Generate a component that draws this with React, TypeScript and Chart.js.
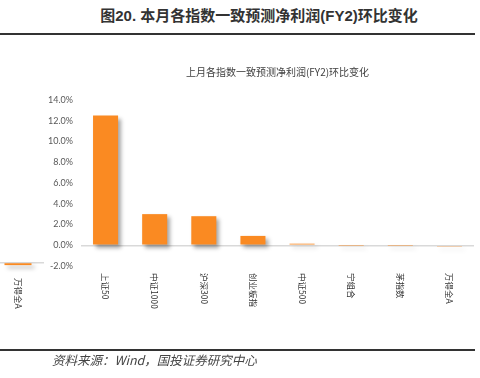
import React, { useEffect, useRef } from "react";
import { Chart, registerables } from "chart.js";

Chart.register(...registerables);

const categories = ["上证50", "中证1000", "沪深300", "创业板指", "中证500", "宁组合", "茅指数", "万得全A"];
const changes = [12.5, 3.0, 2.8, 0.9, 0.15, -0.03, -0.03, -0.1];
const fragmentCategories = ["万得全A"];
const fragmentValues = [-0.25];
const yTicks = [-2, 0, 2, 4, 6, 8, 10, 12, 14];

const headerTitle = "图20. 本月各指数一致预测净利润(FY2)环比变化";
const chartTitle = "上月各指数一致预测净利润(FY2)环比变化";
const sourceNote = "资料来源：Wind，国投证券研究中心";

const ORANGE = "#FA8A22";

const shadowPlugin = {
  id: "barShadow",
  beforeDatasetsDraw(chart: any) {
    const ctx = chart.ctx;
    ctx.save();
    ctx.shadowColor = "rgba(0,0,0,0.35)";
    ctx.shadowBlur = 4;
    ctx.shadowOffsetX = 3;
    ctx.shadowOffsetY = 3;
  },
  afterDatasetsDraw(chart: any) {
    chart.ctx.restore();
  },
};

const vLabelPlugin = {
  id: "vLabels",
  afterDraw(chart: any, _args: any, opts: any) {
    if (!opts || !opts.labelY) return;
    const ctx = chart.ctx;
    const xScale = chart.scales.x;
    const labels = chart.data.labels as string[];
    ctx.save();
    ctx.fillStyle = opts.color || "#404040";
    ctx.font = opts.font || "8.5px 'Noto Sans CJK SC'";
    ctx.textAlign = "left";
    ctx.textBaseline = "middle";
    labels.forEach((lab, i) => {
      const x = xScale.getPixelForValue(i);
      ctx.save();
      ctx.translate(x, opts.labelY);
      ctx.rotate(Math.PI / 2);
      ctx.fillText(lab, 0, 0);
      ctx.restore();
    });
    ctx.restore();
  },
};

function MainChart() {
  const ref = useRef<HTMLCanvasElement>(null);
  useEffect(() => {
    const chart = new Chart(ref.current!, {
      type: "bar",
      data: {
        labels: categories,
        datasets: [
          {
            data: changes,
            backgroundColor: ORANGE,
            borderWidth: 0,
            categoryPercentage: 1,
            barPercentage: 0.51,
          },
        ],
      },
      plugins: [shadowPlugin, vLabelPlugin],
      options: {
        animation: false,
        responsive: false,
        devicePixelRatio: 1,
        layout: { padding: { left: 0, right: 6, top: 0, bottom: 64 } },
        plugins: {
          legend: { display: false },
          tooltip: { enabled: false },
          title: {
            display: true,
            text: chartTitle,
            fullSize: false,
            color: "#404040",
            font: { size: 10, family: "'Noto Sans CJK SC'", weight: "normal" },
            padding: { top: 16, bottom: 22 },
          },
          vLabels: { labelY: 223, font: "8.5px 'Noto Sans CJK SC'", color: "#333" },
        } as any,
        scales: {
          x: { display: false },
          y: {
            min: -2,
            max: 14,
            afterBuildTicks(scale: any) {
              scale.ticks = yTicks.map((v) => ({ value: v }));
            },
            afterFit(scale: any) {
              scale.width = 81;
            },
            border: { display: false },
            grid: {
              drawTicks: false,
              color: (c: any) => (c.tick && c.tick.value === 0 ? "#d9d9d9" : "rgba(0,0,0,0)"),
              lineWidth: 1.5,
            },
            ticks: {
              padding: 8,
              color: "#595959",
              font: { size: 9, family: "Lato, 'Noto Sans'" },
              callback: (v: any) => Number(v).toFixed(1) + "%",
            },
          },
        },
      },
    });
    return () => chart.destroy();
  }, []);
  return (
    <canvas
      ref={ref}
      width={480}
      height={280}
      style={{ position: "absolute", left: 0, top: 50, width: 480, height: 280 }}
    />
  );
}

function FragmentChart() {
  const ref = useRef<HTMLCanvasElement>(null);
  useEffect(() => {
    const chart = new Chart(ref.current!, {
      type: "bar",
      data: {
        labels: fragmentCategories,
        datasets: [
          {
            data: fragmentValues,
            backgroundColor: ORANGE,
            borderWidth: 0,
            categoryPercentage: 1,
            barPercentage: 0.52,
          },
        ],
      },
      plugins: [shadowPlugin, vLabelPlugin],
      options: {
        animation: false,
        responsive: false,
        devicePixelRatio: 1,
        layout: { padding: { left: 0, right: 0, top: 10, bottom: 49 } },
        plugins: {
          legend: { display: false },
          tooltip: { enabled: false },
          vLabels: { labelY: 36, font: "8.5px 'Noto Sans CJK SC'", color: "#333" },
        } as any,
        scales: {
          x: { display: false },
          y: {
            min: -1,
            max: 1,
            afterFit(scale: any) {
              scale.width = 0;
            },
            border: { display: false },
            grid: {
              drawTicks: false,
              color: (c: any) => (c.tick && c.tick.value === 0 ? "#d9d9d9" : "rgba(0,0,0,0)"),
              lineWidth: 1.5,
            },
            ticks: { display: false, stepSize: 1 },
          },
        },
      },
    });
    return () => chart.destroy();
  }, []);
  return (
    <canvas
      ref={ref}
      width={52}
      height={80}
      style={{ position: "absolute", left: -8, top: 242, width: 52, height: 80 }}
    />
  );
}

export default function App() {
  return (
    <div
      style={{
        position: "fixed",
        left: 0,
        top: 0,
        width: 480,
        height: 378,
        background: "#fff",
        overflow: "hidden",
      }}
    >
      <div
        style={{
          position: "absolute",
          left: 0,
          top: 4,
          width: 518,
          textAlign: "center",
          whiteSpace: "nowrap",
          fontFamily: "'Liberation Sans', 'Noto Sans CJK SC'",
          fontWeight: 600,
          fontSize: 15,
          color: "#333",
        }}
      >
        {headerTitle}
      </div>
      <div style={{ position: "absolute", left: 0, top: 33, width: 475, height: 2, background: "#333" }} />
      <FragmentChart />
      <MainChart />
      <div style={{ position: "absolute", left: 0, top: 349, width: 475, height: 2, background: "#333" }} />
      <div
        style={{
          position: "absolute",
          left: 52,
          top: 350,
          whiteSpace: "nowrap",
          fontFamily: "'Noto Sans CJK SC'",
          fontStyle: "italic",
          fontSize: 12.5,
          color: "#444",
        }}
      >
        {sourceNote}
      </div>
    </div>
  );
}
